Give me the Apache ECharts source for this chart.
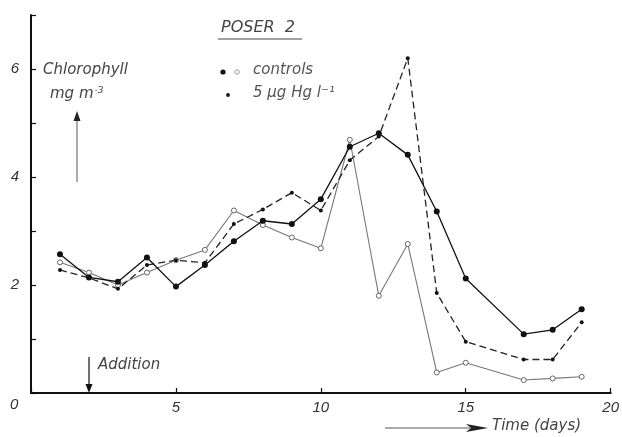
<!DOCTYPE html>
<html>
<head>
<meta charset="utf-8" />
<title>POSER 2</title>
<script src="https://cdn.jsdelivr.net/npm/echarts@6/dist/echarts.min.js"></script>
<style>
html,body{margin:0;padding:0;background:#fff;}
#chart{width:622px;height:437px;}
</style>
</head>
<body>
<div id="chart"></div>
<script type="text/javascript">
// days
var days = [1,2,3,4,5,6,7,8,9,10,11,12,13,14,15,17,18,19];
// controls, filled dots
var ctrlFilled = [2.57,2.14,2.06,2.51,1.97,2.37,2.81,3.19,3.13,3.59,4.56,4.81,4.41,3.36,2.12,1.09,1.17,1.55];
// controls, open dots
var ctrlOpen = [2.42,2.23,2.00,2.23,2.46,2.65,3.38,3.11,2.88,2.68,4.69,1.80,2.76,0.38,0.56,0.24,0.27,0.30];
// 5 ug Hg/l
var hg = [2.28,2.13,1.93,2.37,2.46,2.41,3.13,3.40,3.71,3.38,4.31,4.75,6.20,1.85,0.95,0.62,0.62,1.31];
// ticks
var yLabels = [2,4,6];
var xLabels = [5,10,15,20];

function pairs(v){
	var out = [];
	for (var i = 0; i < days.length; i++) out.push([days[i], v[i]]);
	return out;
}

var font = 'Liberation Sans';
var tfont = 'DejaVu Sans';
var myChart = echarts.init(document.getElementById('chart'));
var option = {
	animation: false,
	backgroundColor: '#fff',
	grid: { left: 31, right: 7, top: 15, bottom: 44 },
	xAxis: {
		type: 'value', min: 0, max: 20, interval: 5,
		axisLine: { lineStyle: { color: '#111', width: 2 } },
		axisTick: { inside: true, length: 5, lineStyle: { color: '#111', width: 1.2 } },
		axisLabel: {
			margin: 7, color: '#333', fontSize: 15, fontStyle: 'italic', fontFamily: font,
			formatter: function(v){ return xLabels.indexOf(v) >= 0 ? String(v) : ''; }
		},
		splitLine: { show: false }
	},
	yAxis: {
		type: 'value', min: 0, max: 7, interval: 1,
		axisLine: { show: true, lineStyle: { color: '#111', width: 2 } },
		axisTick: { show: true, inside: true, length: 5, lineStyle: { color: '#111', width: 1.2 } },
		axisLabel: {
			margin: 12, color: '#333', fontSize: 15, fontStyle: 'italic', fontFamily: font,
			formatter: function(v){ return yLabels.indexOf(v) >= 0 ? String(v) : ''; }
		},
		splitLine: { show: false }
	},
	series: [
		{
			name: 'controls open', type: 'line', data: pairs(ctrlOpen),
			symbol: 'circle', symbolSize: 5,
			itemStyle: { color: '#fff', borderColor: '#666', borderWidth: 1 },
			lineStyle: { color: '#777', width: 1.1 }
		},
		{
			name: '5 ug Hg', type: 'line', data: pairs(hg),
			symbol: 'circle', symbolSize: 4,
			itemStyle: { color: '#111' },
			lineStyle: { color: '#222', width: 1.3, type: [7, 4] }
		},
		{
			name: 'controls filled', type: 'line', data: pairs(ctrlFilled),
			symbol: 'circle', symbolSize: 6,
			itemStyle: { color: '#111' },
			lineStyle: { color: '#111', width: 1.3 }
		}
	],
	graphic: [
		// 0 at origin
		{ type: 'text', left: 10, top: 397, style: { text: '0', fill: '#333', font: 'italic 15px ' + font } },
		// title
		{ type: 'text', left: 221, top: 20, style: { text: 'POSER  2', fill: '#444', font: 'italic 16px ' + tfont } },
		{ type: 'line', shape: { x1: 218, y1: 39, x2: 302, y2: 39 }, style: { stroke: '#444', lineWidth: 1.2 } },
		// y label
		{ type: 'text', left: 43, top: 63, style: { text: 'Chlorophyll', fill: '#444', font: 'italic 15px ' + tfont } },
		{ type: 'text', left: 50, top: 86, style: {
			text: '{a|mg m}{s|-3}', fill: '#444',
			rich: { a: { font: 'italic 15px ' + tfont, fill: '#444' }, s: { font: 'italic 9px ' + tfont, fill: '#444', verticalAlign: 'top', padding: [0,0,8,1] } }
		} },
		{ type: 'line', shape: { x1: 77, y1: 182, x2: 77, y2: 118 }, style: { stroke: '#555', lineWidth: 1 } },
		{ type: 'polygon', shape: { points: [[77,111],[73.5,121],[80.5,121]] }, style: { fill: '#222' } },
		// legend
		{ type: 'circle', shape: { cx: 223, cy: 72, r: 2.6 }, style: { fill: '#111' } },
		{ type: 'circle', shape: { cx: 237, cy: 72, r: 2.2 }, style: { fill: '#fff', stroke: '#999', lineWidth: 1 } },
		{ type: 'text', left: 253, top: 63, style: { text: 'controls', fill: '#555', font: 'italic 15px ' + tfont } },
		{ type: 'circle', shape: { cx: 228, cy: 95, r: 1.9 }, style: { fill: '#111' } },
		{ type: 'text', left: 253, top: 86, style: { text: '5 µg Hg l⁻¹', fill: '#555', font: 'italic 15px ' + tfont } },
		// addition
		{ type: 'line', shape: { x1: 89, y1: 357, x2: 89, y2: 386 }, style: { stroke: '#111', lineWidth: 1.2 } },
		{ type: 'polygon', shape: { points: [[89,393],[85.5,384],[92.5,384]] }, style: { fill: '#111' } },
		{ type: 'text', left: 98, top: 358, style: { text: 'Addition', fill: '#444', font: 'italic 15px ' + tfont } },
		// time axis label
		{ type: 'line', shape: { x1: 385, y1: 428, x2: 470, y2: 428 }, style: { stroke: '#555', lineWidth: 1 } },
		{ type: 'polygon', shape: { points: [[488,428],[466,424],[471,428],[466,432]] }, style: { fill: '#222' } },
		{ type: 'text', left: 492, top: 419, style: { text: 'Time (days)', fill: '#444', font: 'italic 15px ' + tfont } }
	]
};
myChart.setOption(option);
</script>
</body>
</html>
